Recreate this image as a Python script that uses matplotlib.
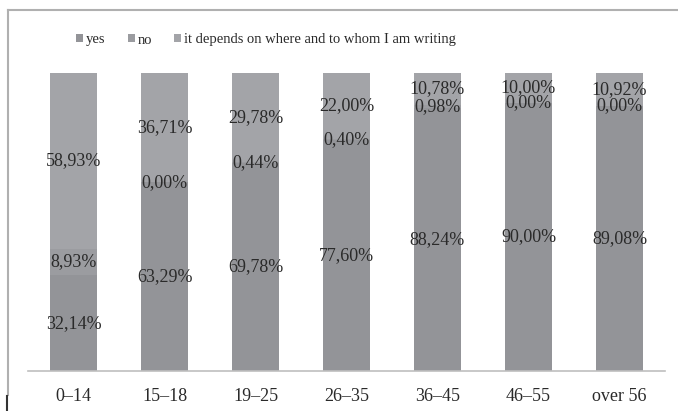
import matplotlib
matplotlib.use("Agg")
import matplotlib.pyplot as plt
from matplotlib.lines import Line2D
from matplotlib.patches import Patch

categories = ["0–14", "15–18", "19–25", "26–35", "36–45", "46–55", "over 56"]
yes = [32.14, 63.29, 69.78, 77.60, 88.24, 90.00, 89.08]
no = [8.93, 0.00, 0.44, 0.40, 0.98, 0.00, 0.00]
depends = [58.93, 36.71, 29.78, 22.00, 10.78, 10.00, 10.92]
series_names = ["yes", "no", "it depends on where and to whom I am writing"]
colors = ["#939498", "#9b9ca0", "#a3a4a8"]

plt.rcParams['font.family'] = ['Liberation Serif', 'DejaVu Serif']

fig = plt.figure(figsize=(6.78, 4.11), dpi=100)
ax = fig.add_axes([28/678, (411-371)/411, (665-28)/678, (371-73)/411])

x = range(len(categories))
w = 0.52
bottom = [0]*len(categories)
for vals, c, name in zip([yes, no, depends], colors, series_names):
    bars = ax.bar(x, vals, w, bottom=bottom, color=c, label=name, linewidth=0)
    for xi, v, b in zip(x, vals, bottom):
        ax.text(xi, b + v/2, f"{v:.2f}%".replace(".", ","), ha="center", va="center",
                fontsize=13, color="#2a2a2a")
    bottom = [b + v for b, v in zip(bottom, vals)]

ax.set_xlim(-0.5, len(categories)-0.5)
ax.set_ylim(0, 100)
ax.set_xticks(list(x))
ax.set_xticklabels(categories, fontsize=13, color="#2a2a2a")
ax.tick_params(axis="x", length=0, pad=12)
ax.set_yticks([])
for s in ["top", "right", "left"]:
    ax.spines[s].set_visible(False)
ax.spines["bottom"].set_color("#bfbfbf")
ax.spines["bottom"].set_linewidth(1.2)

handles = [Patch(facecolor=c, edgecolor="none") for c in colors]
fig.legend(handles, series_names, loc="center left", bbox_to_anchor=(76/678, (411-40)/411),
           ncol=3, frameon=False, fontsize=10.5, handlelength=0.5, handleheight=0.5,
           handletextpad=0.2, columnspacing=1.5, labelcolor="#2a2a2a",
           borderpad=0, borderaxespad=0)

# chart frame (partially visible)
fig.add_artist(Line2D([8/678, 1.0], [(411-10)/411]*2, color="#b0b0b0", lw=1.5))
fig.add_artist(Line2D([8/678]*2, [(411-10)/411, (411-395)/411], color="#b0b0b0", lw=1.5))
fig.add_artist(Line2D([7/678]*2, [(411-396)/411, 0], color="#333333", lw=1.5))

fig.savefig("out.png", dpi=100)
